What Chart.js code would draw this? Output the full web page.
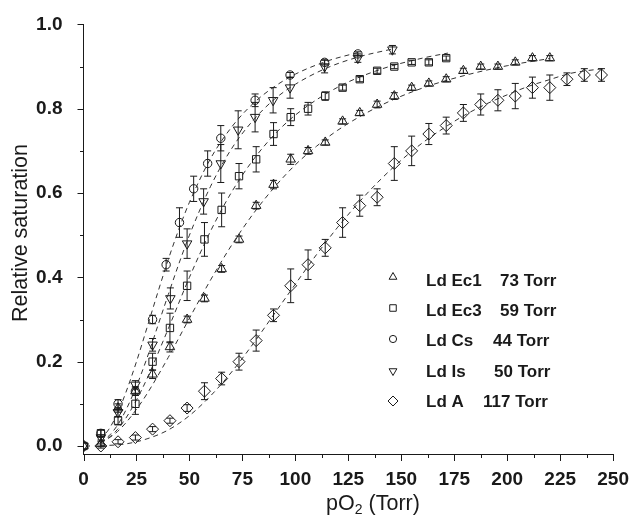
<!DOCTYPE html>
<html><head><meta charset="utf-8">
<script src="https://cdn.jsdelivr.net/npm/chart.js@4/dist/chart.umd.min.js"></script>
<style>html,body{margin:0;padding:0;background:#fff;}#wrap{width:635px;height:522px;}</style>
</head><body><div id="wrap"><canvas id="c" width="635" height="522"></canvas></div>
<script>
// ---- legend / labels ----
const seriesNames = ['Ld Ec1', 'Ld Ec3', 'Ld Cs', 'Ld Is', 'Ld A'];
const seriesP50 = ['73 Torr', '59 Torr', '44 Torr', '50 Torr', '117 Torr'];
const xTickValues = [0, 25, 50, 75, 100, 125, 150, 175, 200, 225, 250];
const yTickValues = [0, 0.2, 0.4, 0.6, 0.8, 1.0];

// ---- measured points (pO2, saturation, error) ----
const ec1X = [0, 8.2, 16.3, 24.5, 32.6, 40.8, 48.9, 57.1, 65.2, 73.4, 81.5, 89.7, 97.8, 106, 114.1, 122.3, 130.4, 138.6, 146.7, 154.9, 163, 171.2, 179.3, 187.5, 195.6, 203.8, 211.9, 220.1];
const ec1Y = [0, 0.005, 0.09, 0.13, 0.17, 0.235, 0.30, 0.35, 0.42, 0.49, 0.57, 0.62, 0.68, 0.70, 0.72, 0.77, 0.79, 0.81, 0.83, 0.85, 0.86, 0.87, 0.89, 0.90, 0.90, 0.91, 0.92, 0.92];
const ec1E = [0, 0.005, 0.01, 0.01, 0.01, 0.012, 0.008, 0.008, 0.008, 0.008, 0.008, 0.01, 0.012, 0.008, 0.006, 0.006, 0.006, 0.008, 0.008, 0.006, 0.006, 0.006, 0.006, 0.006, 0.006, 0.006, 0.006, 0.006];

const ec3X = [0, 8.2, 16.3, 24.5, 32.6, 40.8, 48.9, 57.1, 65.2, 73.4, 81.5, 89.7, 97.8, 106, 114.1, 122.3, 130.4, 138.6, 146.7, 154.9, 163, 171.2];
const ec3Y = [0, 0.03, 0.06, 0.10, 0.20, 0.28, 0.38, 0.49, 0.56, 0.64, 0.68, 0.74, 0.78, 0.80, 0.83, 0.85, 0.87, 0.89, 0.90, 0.91, 0.91, 0.92];
const ec3E = [0, 0.008, 0.01, 0.025, 0.02, 0.035, 0.035, 0.04, 0.04, 0.03, 0.03, 0.027, 0.02, 0.015, 0.01, 0.006, 0.006, 0.006, 0.005, 0.005, 0.006, 0.005];

const csX = [0, 8.2, 16.3, 24.5, 32.6, 39, 45.3, 52, 58.6, 64.8, 81, 97.5, 113.8, 129.5];
const csY = [0, 0.03, 0.10, 0.13, 0.30, 0.43, 0.53, 0.61, 0.67, 0.73, 0.82, 0.88, 0.91, 0.93];
const csE = [0, 0.008, 0.01, 0.01, 0.01, 0.015, 0.035, 0.03, 0.03, 0.03, 0.015, 0.006, 0.006, 0.005];

const isX = [0, 8.2, 16.3, 24.5, 32.6, 41, 48.9, 56.7, 64.8, 73, 81, 89.5, 97.5, 113.8, 129.5, 145.8];
const isY = [0, 0.02, 0.08, 0.145, 0.24, 0.35, 0.48, 0.58, 0.67, 0.75, 0.78, 0.82, 0.85, 0.90, 0.92, 0.94];
const isE = [0, 0.006, 0.01, 0.01, 0.015, 0.025, 0.035, 0.03, 0.045, 0.045, 0.035, 0.03, 0.025, 0.015, 0.01, 0.01];

const aX = [0, 8.2, 16.3, 24.5, 32.6, 40.8, 48.9, 57.1, 65.2, 73.4, 81.5, 89.7, 97.8, 106, 114.1, 122.3, 130.4, 138.6, 146.7, 154.9, 163, 171.2, 179.3, 187.5, 195.6, 203.8, 211.9, 220.1, 228.2, 236.4, 244.5];
const aY = [0, 0, 0.01, 0.02, 0.04, 0.06, 0.09, 0.13, 0.16, 0.20, 0.25, 0.31, 0.38, 0.43, 0.47, 0.53, 0.57, 0.59, 0.67, 0.70, 0.74, 0.76, 0.79, 0.81, 0.82, 0.83, 0.85, 0.85, 0.87, 0.88, 0.88];
const aE = [0, 0.005, 0.005, 0.006, 0.006, 0.006, 0.008, 0.02, 0.015, 0.02, 0.025, 0.015, 0.04, 0.035, 0.02, 0.035, 0.025, 0.02, 0.04, 0.035, 0.025, 0.02, 0.02, 0.025, 0.025, 0.03, 0.025, 0.03, 0.015, 0.015, 0.015];

// ---- fitted dashed curves ----
const ec1CurveX = [8, 12, 16, 20, 25, 30, 40, 50, 60, 70, 80, 90, 100, 110, 120, 140, 160, 180, 200, 220];
const ec1CurveY = [0.008, 0.019, 0.034, 0.055, 0.087, 0.124, 0.210, 0.303, 0.394, 0.477, 0.550, 0.613, 0.667, 0.711, 0.749, 0.807, 0.849, 0.879, 0.902, 0.919];
const ec3CurveX = [8, 12, 16, 20, 25, 30, 40, 50, 60, 70, 80, 90, 100, 120, 140, 160, 172];
const ec3CurveY = [0.007, 0.020, 0.039, 0.066, 0.109, 0.160, 0.278, 0.400, 0.510, 0.603, 0.678, 0.738, 0.785, 0.851, 0.893, 0.920, 0.932];
const csCurveX = [8, 12, 16, 20, 25, 30, 35, 40, 45, 50, 60, 70, 80, 90, 100, 115, 130];
const csCurveY = [0.015, 0.040, 0.077, 0.127, 0.200, 0.281, 0.363, 0.442, 0.514, 0.578, 0.682, 0.757, 0.812, 0.852, 0.882, 0.913, 0.934];
const isCurveX = [8, 12, 16, 20, 25, 30, 35, 40, 45, 50, 60, 70, 80, 90, 100, 115, 130, 147];
const isCurveY = [0.0085, 0.024, 0.049, 0.085, 0.142, 0.209, 0.284, 0.359, 0.432, 0.500, 0.616, 0.706, 0.772, 0.822, 0.858, 0.897, 0.923, 0.943];
const aCurveX = [8, 20, 30, 40, 50, 60, 70, 80, 90, 100, 110, 120, 130, 140, 150, 160, 170, 180, 190, 200, 210, 220, 230, 245];
const aCurveY = [0.0003, 0.005, 0.017, 0.038, 0.072, 0.119, 0.176, 0.242, 0.313, 0.384, 0.454, 0.519, 0.578, 0.631, 0.678, 0.719, 0.754, 0.785, 0.811, 0.833, 0.853, 0.869, 0.884, 0.895];

const pts = (xs, ys) => xs.map((v, i) => ({x: v, y: ys[i]}));
const INK = '#1a1a1a';

const markerStyles = [
  {pointStyle: 'triangle', radius: 5.5, rotation: 0},
  {pointStyle: 'rect', radius: 5.2, rotation: 0},
  {pointStyle: 'circle', radius: 4.2, rotation: 0},
  {pointStyle: 'triangle', radius: 5.5, rotation: 180},
  {pointStyle: 'rectRot', radius: 6, rotation: 0}
];
const pointSets = [[ec1X, ec1Y, ec1E], [ec3X, ec3Y, ec3E], [csX, csY, csE], [isX, isY, isE], [aX, aY, aE]];
const curveSets = [[ec1CurveX, ec1CurveY], [ec3CurveX, ec3CurveY], [csCurveX, csCurveY], [isCurveX, isCurveY], [aCurveX, aCurveY]];

const datasets = [];
curveSets.forEach((c, i) => datasets.push({
  label: seriesNames[i] + ' fit', data: pts(c[0], c[1]), showLine: true, pointRadius: 0,
  borderColor: '#333', borderWidth: 1, borderDash: [5, 4], cubicInterpolationMode: 'monotone',
  fill: false
}));
pointSets.forEach((p, i) => datasets.push({
  label: seriesNames[i], data: pts(p[0], p[1]), errors: p[2], showLine: false,
  pointStyle: markerStyles[i].pointStyle, pointRadius: markerStyles[i].radius,
  pointRotation: markerStyles[i].rotation, pointBorderColor: INK, pointBackgroundColor: 'rgba(255,255,255,0)',
  pointBorderWidth: 1
}));

function shape(ctx, style, x, y, r, rot) {
  ctx.beginPath();
  if (style === 'circle') { ctx.arc(x, y, r, 0, Math.PI * 2); }
  else if (style === 'rect') { const s = r * Math.SQRT1_2; ctx.rect(x - s, y - s, 2 * s, 2 * s); }
  else if (style === 'rectRot') { ctx.moveTo(x, y - r); ctx.lineTo(x + r, y); ctx.lineTo(x, y + r); ctx.lineTo(x - r, y); ctx.closePath(); }
  else if (style === 'triangle') {
    let a = rot * Math.PI / 180;
    for (let k = 0; k < 3; k++) { const px = x + Math.sin(a) * r, py = y - Math.cos(a) * r; k ? ctx.lineTo(px, py) : ctx.moveTo(px, py); a += 2 * Math.PI / 3; }
    ctx.closePath();
  }
  ctx.stroke();
}

const decor = {
  id: 'decor',
  beforeDraw(chart) {
    const ctx = chart.ctx; ctx.save(); ctx.fillStyle = '#fff'; ctx.fillRect(0, 0, chart.width, chart.height); ctx.restore();
  },
  afterDatasetsDraw(chart) {
    const {ctx, scales: {x, y}} = chart;
    ctx.save(); ctx.strokeStyle = INK; ctx.lineWidth = 1;
    chart.data.datasets.forEach(ds => {
      if (!ds.errors) return;
      ds.data.forEach((p, i) => {
        const e = ds.errors[i]; if (!e) return;
        const px = x.getPixelForValue(p.x);
        const y1 = y.getPixelForValue(p.y + e), y2 = y.getPixelForValue(p.y - e);
        ctx.beginPath();
        ctx.moveTo(px, y1); ctx.lineTo(px, y2);
        ctx.moveTo(px - 3.5, y1); ctx.lineTo(px + 3.5, y1);
        ctx.moveTo(px - 3.5, y2); ctx.lineTo(px + 3.5, y2);
        ctx.stroke();
      });
    });
    ctx.restore();
  },
  afterDraw(chart) {
    const {ctx, scales: {x, y}} = chart;
    ctx.save(); ctx.strokeStyle = INK; ctx.lineWidth = 1;
    for (let v = 0; v <= 10; v++) {
      const py = Math.round(y.getPixelForValue(v / 10)) + 0.5;
      const len = v % 2 === 0 ? 6 : 3.5;
      ctx.beginPath(); ctx.moveTo(x.left - len, py); ctx.lineTo(x.left, py); ctx.stroke();
    }
    for (let v = 0; v <= 20; v++) {
      const px = Math.round(x.getPixelForValue(v * 12.5)) + 0.5;
      const len = v % 2 === 0 ? 7 : 4;
      ctx.beginPath(); ctx.moveTo(px, y.bottom); ctx.lineTo(px, y.bottom + len); ctx.stroke();
    }
    // axis titles
    ctx.fillStyle = INK;
    const big = '21.5px "Liberation Sans", Arial, sans-serif', small = '14px "Liberation Sans", Arial, sans-serif';
    ctx.textBaseline = 'alphabetic';
    const t1 = 'pO', t2 = '2', t3 = ' (Torr)';
    ctx.font = big;
    const w1 = ctx.measureText(t1).width, w3 = ctx.measureText(t3).width;
    ctx.font = small;
    const w2 = ctx.measureText(t2).width;
    const sx = 373 - (w1 + w2 + w3) / 2;
    ctx.textAlign = 'left';
    ctx.font = big; ctx.fillText(t1, sx, 510);
    ctx.font = small; ctx.fillText(t2, sx + w1, 514);
    ctx.font = big; ctx.fillText(t3, sx + w1 + w2, 510);
    ctx.save();
    ctx.translate(21, 233); ctx.rotate(-Math.PI / 2);
    ctx.textAlign = 'center'; ctx.textBaseline = 'middle';
    ctx.fillText('Relative saturation', 0, 0);
    ctx.restore();
    // legend
    const rowsM = [277, 308, 339, 371, 401];
    const rowsT = [281.5, 311.5, 341, 372.5, 402.5];
    const col2 = [500, 500, 493, 494, 483];
    const legR = [4.5, 4.6, 3.6, 4.5, 5];
    ctx.font = 'bold 17px "Liberation Sans", Arial, sans-serif';
    ctx.textAlign = 'left'; ctx.textBaseline = 'middle';
    seriesNames.forEach((n, i) => {
      shape(ctx, markerStyles[i].pointStyle, 393, rowsM[i], legR[i], markerStyles[i].rotation);
      ctx.fillText(n, 426, rowsT[i]);
      ctx.fillText(seriesP50[i], col2[i], rowsT[i]);
    });
    ctx.restore();
  }
};

const tickFont = {family: '"Liberation Sans", Arial, sans-serif', size: 19, weight: 'bold'};
new Chart(document.getElementById('c'), {
  type: 'scatter',
  data: {datasets},
  options: {
    responsive: false, animation: false, devicePixelRatio: 1,
    layout: {padding: {left: 0, top: 20.7, right: 17.3, bottom: 0}},
    plugins: {legend: {display: false}, tooltip: {enabled: false}},
    scales: {
      x: {
        type: 'linear', min: 0, max: 250,
        afterBuildTicks: s => { s.ticks = xTickValues.map(v => ({value: v})); },
        afterFit: s => { s.height = 68; },
        grid: {display: false}, border: {display: true, color: INK, width: 1},
        ticks: {font: tickFont, color: INK, padding: 6, maxRotation: 0, callback: v => String(v)}
      },
      y: {
        type: 'linear', min: -0.019, max: 1.0,
        afterBuildTicks: s => { s.ticks = yTickValues.map(v => ({value: v})); },
        afterFit: s => { s.width = 83.5; },
        grid: {display: false}, border: {display: true, color: INK, width: 1},
        ticks: {font: tickFont, color: INK, padding: 13, callback: v => Number(v).toFixed(1)}
      }
    }
  },
  plugins: [decor]
});
</script></body></html>
